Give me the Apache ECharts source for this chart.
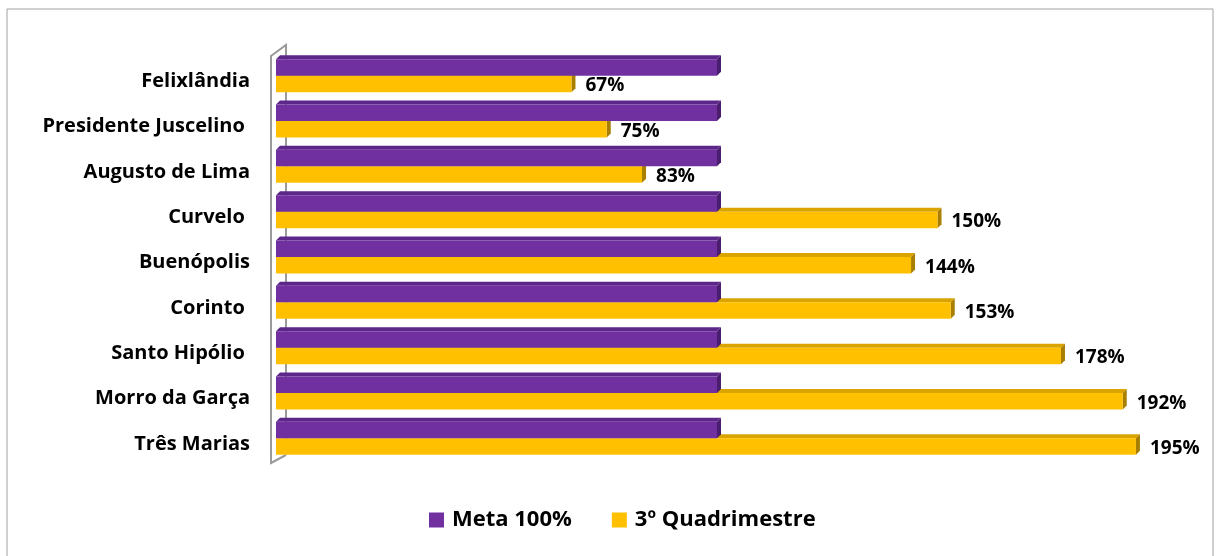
<!DOCTYPE html>
<html>
<head>
<meta charset="utf-8">
<script src="https://cdn.jsdelivr.net/npm/echarts@6/dist/echarts.min.js"></script>
<style>
  html, body { margin: 0; padding: 0; background: #fff; }
  #chart { width: 1218px; height: 556px; }
</style>
</head>
<body>
<div id="chart"></div>
<script>
var municipios = ['Felixlândia', 'Presidente Juscelino ', 'Augusto de Lima', 'Curvelo ', 'Buenópolis',
                  'Corinto ', 'Santo Hipólio ', 'Morro da Garça', 'Três Marias'];
var meta = [100, 100, 100, 100, 100, 100, 100, 100, 100];
var quadrimestre = [67, 75, 83, 150, 144, 153, 178, 192, 195];

var FONT = '"Open Sans", "Noto Sans", sans-serif';
var myChart = echarts.init(document.getElementById('chart'));

// barra 3D: frente + topo + lado
function bar3d(front, top, side, slot, showLabel) {
  return function (params, api) {
    var v = api.value(0);
    var cat = api.value(1);
    var p0 = api.coord([0, cat]);
    var p1 = api.coord([v, cat]);
    var h = 16.5, d = 4;
    var y = slot === 0 ? p0[1] - h : p0[1];
    var x0 = p0[0], x1 = p1[0];
    var children = [
      { type: 'polygon', shape: { points: [[x0, y], [x0 + d, y - d], [x1 + d, y - d], [x1, y]] },
        style: { fill: top } },
      { type: 'polygon', shape: { points: [[x1, y], [x1 + d, y - d], [x1 + d, y + h - d], [x1, y + h]] },
        style: { fill: side } },
      { type: 'rect', shape: { x: x0, y: y, width: x1 - x0, height: h }, style: { fill: front } }
    ];
    if (showLabel) {
      children.push({
        type: 'text',
        style: { text: v + '%', x: x1 + d + 10, y: y + h / 2 + 2, textVerticalAlign: 'middle',
                 fill: '#000', font: 'bold 19px ' + FONT }
      });
    }
    return { type: 'group', children: children };
  };
}

function toData(arr) {
  var out = [];
  for (var i = 0; i < arr.length; i++) out.push([arr[i], i]);
  return out;
}

var option = {
  animation: false,
  grid: { left: 276, right: 60, top: 53, bottom: 95 },
  legend: {
    data: ['Meta 100%', '3º Quadrimestre'],
    bottom: 20,
    left: 424,
    itemWidth: 15, itemHeight: 15, itemGap: 40,
    icon: 'rect',
    textStyle: { fontFamily: FONT, fontWeight: 'bold', fontSize: 22, color: '#000', padding: [0, 0, 0, 3] }
  },
  xAxis: {
    type: 'value', min: 0, max: 200,
    show: false,
    splitLine: { show: false }
  },
  yAxis: {
    type: 'category',
    data: municipios,
    inverse: true,
    axisLine: { show: false },
    axisTick: { show: false },
    axisLabel: {
      margin: 26, color: '#000',
      formatter: function (v) { return '{n|' + v + '}'; },
      rich: { n: { fontFamily: FONT, fontWeight: 'bold', fontSize: 20, color: '#000', padding: [11, 0, 0, 0] } }
    }
  },
  graphic: [
    { type: 'rect', shape: { x: 7, y: 9, width: 1206, height: 600 },
      style: { fill: 'none', stroke: '#a0a0a0', lineWidth: 1 }, z: -10 },
    // parede lateral
    { type: 'polyline', shape: { points: [[286, 455], [286, 45], [271, 56], [271, 463], [286, 455]] },
      style: { fill: 'none', stroke: '#9a9a9a', lineWidth: 2 }, z: -5 }
  ],
  series: [
    {
      name: '3º Quadrimestre', type: 'custom', color: '#FFC000',
      renderItem: bar3d('#FFC000', '#D9A300', '#A87F00', 1, true),
      encode: { x: 0, y: 1 },
      data: toData(quadrimestre)
    },
    {
      name: 'Meta 100%', type: 'custom', color: '#7030A0',
      renderItem: bar3d('#7030A0', '#5C2788', '#4A1D6E', 0, false),
      encode: { x: 0, y: 1 },
      data: toData(meta)
    }
  ]
};

myChart.setOption(option);
</script>
</body>
</html>
